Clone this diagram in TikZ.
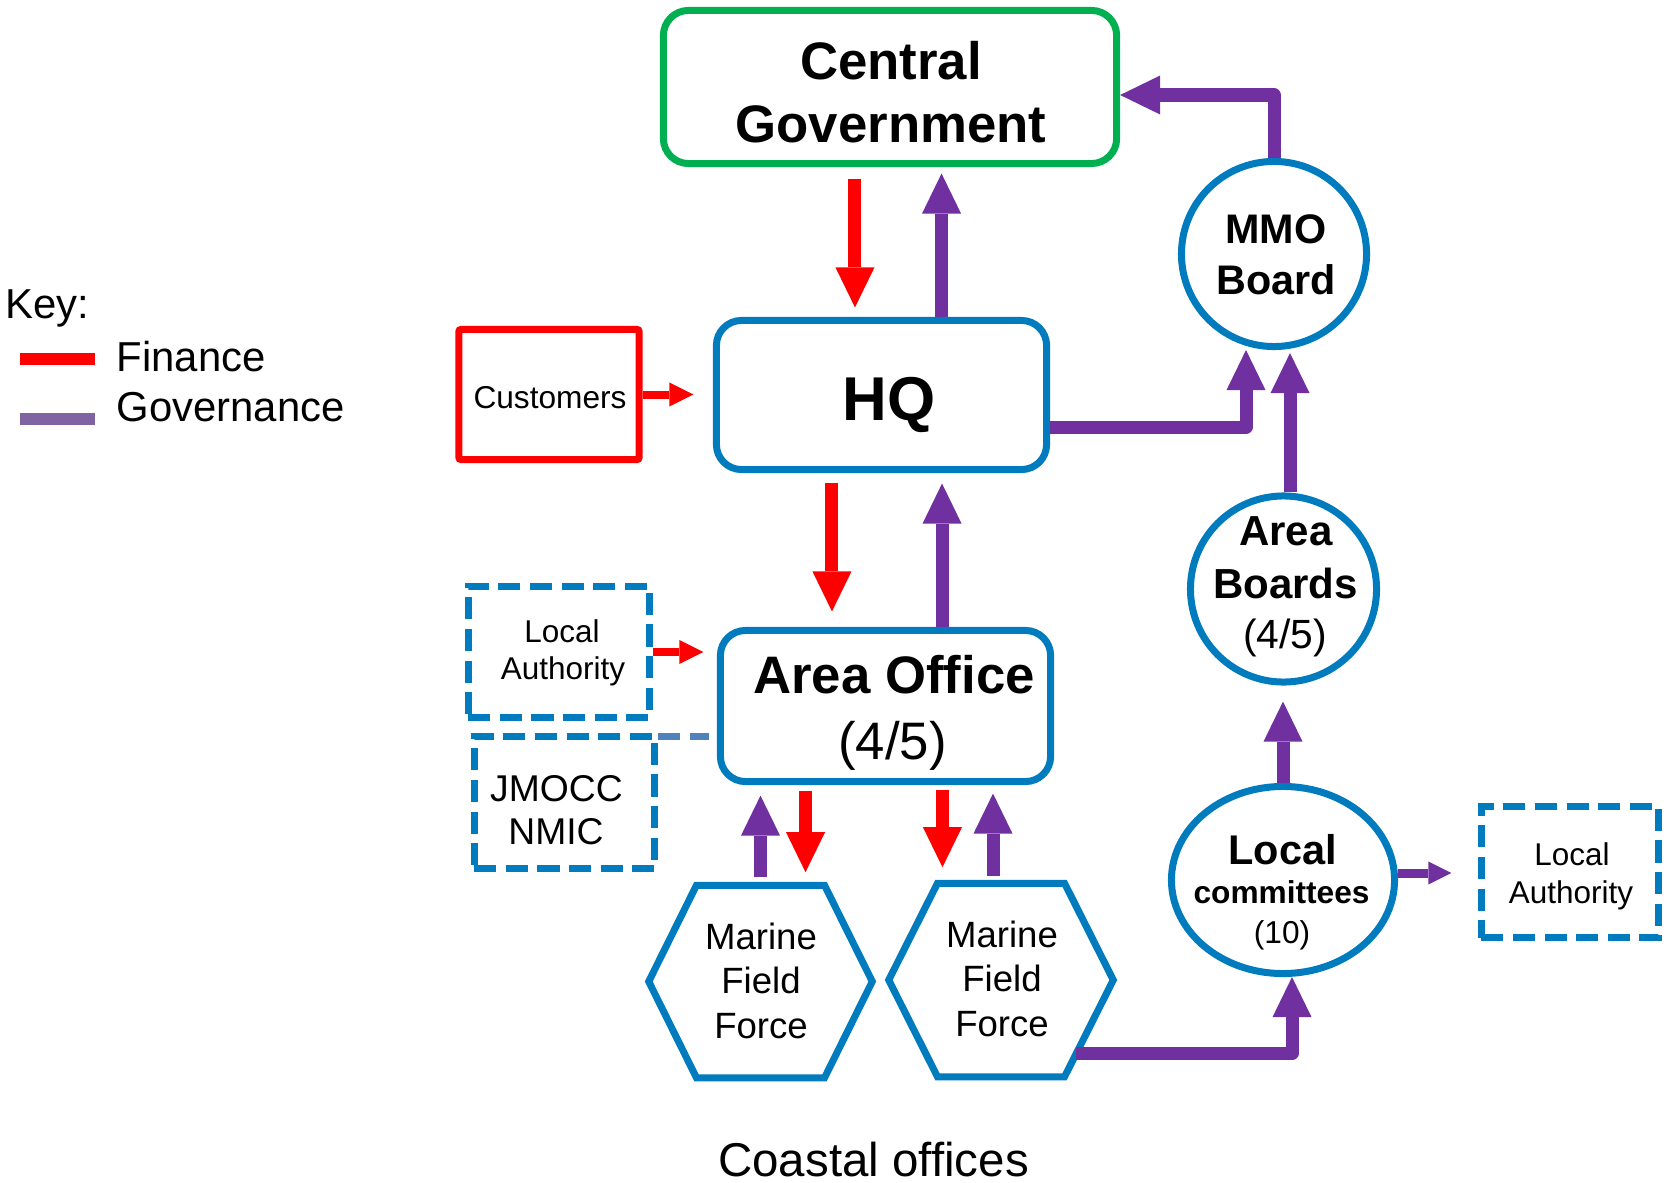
\documentclass[tikz,border=0pt]{standalone}
\usepackage{fontspec}
\setmainfont{Liberation Sans}
\usetikzlibrary{arrows.meta,calc,shapes.geometric}
\definecolor{mblue}{RGB}{0,123,190}
\definecolor{mgreen}{RGB}{0,176,80}
\definecolor{mpurple}{RGB}{112,48,160}
\definecolor{mred}{RGB}{255,0,0}
\definecolor{legpurple}{RGB}{128,100,162}
\definecolor{dashblue}{RGB}{79,129,189}
\tikzset{
  lbl/.style={anchor=base, inner sep=0pt, outer sep=0pt},
  rbox/.style={draw=mblue, line width=0.07cm, rounded corners=0.25cm, inner sep=0pt},
  dbox/.style={draw=mblue, line width=0.07cm, dash pattern=on 0.22cm off 0.095cm, inner sep=0pt},
  circ/.style={circle, draw=mblue, line width=0.07cm, inner sep=0pt},
  hexframe/.style={draw=mblue, line width=0.07cm, line join=miter},
  fin/.style={draw=mred, line width=0.13cm, -{Triangle[length=0.40cm,width=0.39cm,line width=0pt]}},
  gov/.style={draw=mpurple, line width=0.13cm, line join=round, -{Triangle[length=0.40cm,width=0.39cm,line width=0pt]}},
  finthin/.style={draw=mred, line width=0.08cm, -{Triangle[length=0.24cm,width=0.24cm,line width=0pt]}},
  govthin/.style={draw=mpurple, line width=0.09cm, -{Triangle[length=0.23cm,width=0.23cm,line width=0pt]}},
  fcg/.style={font=\fontsize{15pt}{18pt}\selectfont\bfseries},
  fhq/.style={font=\fontsize{17.6pt}{21pt}\selectfont\bfseries},
  faob/.style={font=\fontsize{15pt}{18pt}\selectfont\bfseries},
  faor/.style={font=\fontsize{15pt}{18pt}\selectfont},
  fsmall/.style={font=\fontsize{8.95pt}{11pt}\selectfont},
  fjm/.style={font=\fontsize{10.6pt}{13pt}\selectfont},
  fmf/.style={font=\fontsize{10.4pt}{12.5pt}\selectfont},
  fcirc/.style={font=\fontsize{11.8pt}{14pt}\selectfont\bfseries},
  fcircr/.style={font=\fontsize{11.6pt}{14pt}\selectfont},
  fcom/.style={font=\fontsize{9pt}{11pt}\selectfont\bfseries},
  fcomr/.style={font=\fontsize{9pt}{11pt}\selectfont},
  fleg/.style={font=\fontsize{11.9pt}{14pt}\selectfont},
  fco/.style={font=\fontsize{13.5pt}{16pt}\selectfont},
}
\begin{document}
\begin{tikzpicture}[x=0.01cm,y=-0.01cm]
\useasboundingbox (0,0) rectangle (1664,1182);

% Legend
\node[anchor=base west, inner sep=0pt, fleg] (key) at (5,318) {Key:};
\coordinate (kf1) at (20,359); \coordinate (kf2) at (95,359);
\coordinate (kg1) at (20,419); \coordinate (kg2) at (95,419);
\draw[mred, line width=0.12cm] (kf1) -- (kf2);
\draw[legpurple, line width=0.12cm] (kg1) -- (kg2);
\node[anchor=base west, inner sep=0pt, fleg] (kfin) at (116,371) {Finance};
\node[anchor=base west, inner sep=0pt, fleg] (kgov) at (116,421) {Governance};

% Central Government
\node[rbox, draw=mgreen, minimum width=4.53cm, minimum height=1.53cm] (cg) at (890,87) {};
\node[lbl, fcg] (cg1) at (891,80) {Central};
\node[lbl, fcg] (cg2) at (891,143) {Government};

% HQ
\node[rbox, minimum width=3.30cm, minimum height=1.49cm] (hq) at (881.5,395) {};
\node[lbl, fhq] (hqt) at (889,420) {HQ};

% Area Office
\node[rbox, minimum width=3.30cm, minimum height=1.51cm] (ao) at (885.5,706) {};
\node[lbl, faob] (ao1) at (894,693) {Area Office};
\node[lbl, faor] (ao2) at (892.5,759) {(4/5)};

% Customers
\node[draw=mred, line width=0.07cm, rounded corners=0.02cm, minimum width=1.80cm, minimum height=1.30cm, inner sep=0pt] (cu) at (549,394.5) {};
\node[lbl, fsmall, font=\fontsize{9pt}{11pt}\selectfont] (cut) at (550,408) {Customers};

% Local Authority (left)
\node[dbox, minimum width=1.81cm, minimum height=1.31cm] (lal) at (559,652) {};
\node[lbl, fsmall] (lal1) at (562,642) {Local};
\node[lbl, fsmall] (lal2) at (563,679) {Authority};

% JMOCC NMIC
\node[dbox, minimum width=1.80cm, minimum height=1.32cm] (jm) at (564.5,802.5) {};
\node[lbl, fjm] (jm1) at (556.5,801) {JMOCC};
\node[lbl, fjm] (jm2) at (556,844) {NMIC};

% Marine Field Force hexagons
\node[minimum width=2.22cm, minimum height=1.91cm, inner sep=0pt] (mf1) at (760.5,981.5) {};
\draw[hexframe] (mf1.west) -- ([xshift=-0.64cm]mf1.north) -- ([xshift=0.64cm]mf1.north) -- (mf1.east) -- ([xshift=0.64cm]mf1.south) -- ([xshift=-0.64cm]mf1.south) -- cycle;
\node[lbl, fmf] (mf1a) at (761,949) {Marine};
\node[lbl, fmf] (mf1b) at (761,993) {Field};
\node[lbl, fmf] (mf1c) at (761,1038) {Force};

\node[minimum width=2.23cm, minimum height=1.92cm, inner sep=0pt] (mf2) at (1001,980) {};
\draw[hexframe] (mf2.west) -- ([xshift=-0.635cm]mf2.north) -- ([xshift=0.635cm]mf2.north) -- (mf2.east) -- ([xshift=0.635cm]mf2.south) -- ([xshift=-0.635cm]mf2.south) -- cycle;
\node[lbl, fmf] (mf2a) at (1002,947) {Marine};
\node[lbl, fmf] (mf2b) at (1002,991) {Field};
\node[lbl, fmf] (mf2c) at (1002,1036) {Force};

% MMO Board
\node[circ, minimum size=1.85cm] (mmo) at (1274,254) {};
\node[lbl, fcirc, font=\fontsize{11.75pt}{14pt}\selectfont\bfseries] (mmo1) at (1276,243) {MMO};
\node[lbl, fcirc, font=\fontsize{11.75pt}{14pt}\selectfont\bfseries] (mmo2) at (1276,294) {Board};

% Area Boards
\node[circ, minimum size=1.86cm] (ab) at (1283.5,589) {};
\node[lbl, fcirc, font=\fontsize{11.95pt}{14pt}\selectfont\bfseries] (ab1) at (1286,545) {Area};
\node[lbl, fcirc, font=\fontsize{11.95pt}{14pt}\selectfont\bfseries] (ab2) at (1285.5,598) {Boards};
\node[lbl, fcircr] (ab3) at (1285,648) {(4/5)};

% Local committees
\node[ellipse, draw=mblue, line width=0.07cm, minimum width=2.23cm, minimum height=1.87cm, inner sep=0pt] (lc) at (1283,880) {};
\node[lbl, fcirc] (lc1) at (1282.5,864) {Local};
\node[lbl, fcom] (lc2) at (1281.5,903) {committees};
\node[lbl, fcomr] (lc3) at (1282,943) {(10)};

% Local Authority (right)
\node[dbox, minimum width=1.77cm, minimum height=1.31cm] (lar) at (1570,872) {};
\node[lbl, fsmall] (lar1) at (1572,865) {Local};
\node[lbl, fsmall] (lar2) at (1571,903) {Authority};

% Coastal offices
\node[lbl, fco] (co) at (873.5,1176) {Coastal offices};

% ---- connectors ----
\coordinate (cgx) at ([xshift=-0.35cm]cg.south);
\draw[fin, shorten <=0.115cm, shorten >=0.095cm] (cgx) -- (cgx |- hq.north);
\coordinate (hqx) at ([xshift=0.60cm]hq.north);
\draw[gov, shorten >=0.065cm] (hqx) -- (hqx |- cg.south);

\draw[gov] ([yshift=-0.32cm]hq.east) -| ([xshift=-0.28cm]mmo.south);
\coordinate (abx) at ([xshift=0.065cm]ab.north);
\draw[gov, shorten >=0.03cm] (abx) -- (abx |- mmo.south);
\draw[gov] (mmo.north) |- ([yshift=-0.08cm]cg.east);

\draw[gov, shorten >=0.16cm] (lc.north) -- (lc.north |- ab.south);
\coordinate (mf2p) at ($(mf2.east)!0.76!([xshift=0.635cm]mf2.south)$);
\draw[gov] (mf2p) -| ([xshift=0.09cm]lc.south);
\coordinate (lcx) at ([yshift=0.07cm]lc.east);
\draw[govthin, shorten >=0.265cm] (lcx) -- (lcx -| lar.west);

\draw[finthin, shorten >=0.195cm] (cu.east) -- (cu.east -| hq.west);
\draw[finthin, shorten >=0.135cm] (lal.east) -- (lal.east -| ao.west);

\coordinate (jmx) at ([yshift=-0.035cm]jm.north east);
\draw[dashblue, line width=0.07cm, dash pattern=on 0.22cm off 0.1cm, shorten >=0.08cm] (jmx) -- (jmx -| ao.west);

\coordinate (hqs) at ([xshift=-0.495cm]hq.south);
\draw[fin, shorten <=0.095cm, shorten >=0.155cm] (hqs) -- (hqs |- ao.north);
\coordinate (aon) at ([xshift=0.565cm]ao.north);
\draw[gov, shorten >=0.105cm] (aon) -- (aon |- hq.south);

\draw[gov, shorten <=0.08cm, shorten >=0.105cm] (mf1.north) -- (mf1.north |- ao.south);
\coordinate (r1t) at ([xshift=0.45cm]mf1.north);
\draw[fin, shorten <=0.055cm, shorten >=0.13cm] (r1t |- ao.south) -- (r1t);
\coordinate (r2t) at ([xshift=-0.585cm]mf2.north);
\draw[fin, shorten <=0.045cm, shorten >=0.16cm] (r2t |- ao.south) -- (r2t);
\coordinate (p2t) at ([xshift=-0.08cm]mf2.north);
\draw[gov, shorten <=0.07cm, shorten >=0.085cm] (p2t) -- (p2t |- ao.south);
\end{tikzpicture}
\end{document}
